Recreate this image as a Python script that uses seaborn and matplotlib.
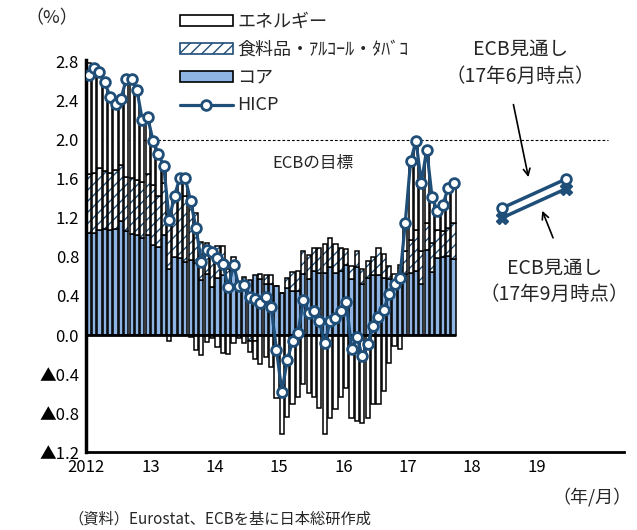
import numpy as np
import pandas as pd
import matplotlib
matplotlib.use("Agg")
import matplotlib.pyplot as plt
import seaborn as sns
from matplotlib.patches import Patch
from matplotlib.lines import Line2D

sns.set_theme(style="white")
plt.rcParams["font.family"] = ["Noto Sans CJK JP", "DejaVu Sans"]
plt.rcParams["hatch.linewidth"] = 1.0

# monthly contributions, 2012/01 - 2017/09 (%pt)
years = [2012] * 12 + [2013] * 12 + [2014] * 12 + [2015] * 12 + [2016] * 12 + [2017] * 9
months = list(range(1, 13)) * 5 + list(range(1, 10))

hicp = [2.66, 2.74, 2.70, 2.59, 2.44, 2.37, 2.42, 2.62, 2.62, 2.51, 2.20, 2.23,
        1.99, 1.86, 1.73, 1.18, 1.43, 1.61, 1.61, 1.37, 1.10, 0.75, 0.87, 0.85,
        0.79, 0.73, 0.49, 0.72, 0.50, 0.51, 0.39, 0.37, 0.33, 0.39, 0.29, -0.15,
        -0.58, -0.26, -0.06, 0.02, 0.36, 0.23, 0.25, 0.14, -0.08, 0.14, 0.17, 0.25,
        0.34, -0.14, -0.02, -0.22, -0.09, 0.09, 0.18, 0.26, 0.42, 0.52, 0.58, 1.15,
        1.78, 1.99, 1.56, 1.90, 1.41, 1.27, 1.33, 1.51, 1.56]
core = [1.05, 1.05, 1.08, 1.09, 1.08, 1.09, 1.17, 1.07, 1.04, 1.03, 0.99, 1.03,
        0.92, 0.90, 1.03, 0.68, 0.80, 0.79, 0.75, 0.77, 0.74, 0.56, 0.63, 0.49,
        0.58, 0.62, 0.48, 0.66, 0.50, 0.55, 0.56, 0.62, 0.57, 0.52, 0.52, 0.50,
        0.43, 0.48, 0.45, 0.45, 0.63, 0.57, 0.66, 0.64, 0.64, 0.70, 0.64, 0.66,
        0.72, 0.57, 0.70, 0.52, 0.58, 0.62, 0.62, 0.58, 0.57, 0.53, 0.58, 0.63,
        0.64, 0.66, 0.52, 0.87, 0.65, 0.79, 0.80, 0.81, 0.78]
food = [0.60, 0.61, 0.63, 0.59, 0.58, 0.60, 0.57, 0.55, 0.57, 0.56, 0.58, 0.62,
        0.62, 0.53, 0.53, 0.56, 0.62, 0.62, 0.68, 0.62, 0.51, 0.39, 0.31, 0.39,
        0.33, 0.29, 0.20, 0.14, 0.03, 0.04, -0.06, -0.06, 0.06, 0.10, 0.10, 0.00,
        0.00, 0.10, 0.20, 0.21, 0.23, 0.25, 0.23, 0.25, 0.29, 0.29, 0.29, 0.23,
        0.16, 0.14, 0.16, 0.16, 0.18, 0.18, 0.27, 0.25, 0.14, 0.10, 0.14, 0.23,
        0.33, 0.42, 0.34, 0.28, 0.29, 0.29, 0.27, 0.29, 0.37]
energy = [1.14, 1.12, 0.99, 0.91, 0.78, 0.68, 0.68, 1.00, 1.01, 0.92, 0.63, 0.58,
          0.45, 0.43, 0.17, -0.06, 0.01, 0.20, 0.18, -0.02, -0.15, -0.20, -0.07, -0.03,
          -0.12, -0.18, -0.19, -0.08, -0.03, -0.08, -0.11, -0.19, -0.30, -0.23, -0.33, -0.65,
          -1.01, -0.84, -0.71, -0.64, -0.50, -0.59, -0.64, -0.75, -1.01, -0.85, -0.76, -0.64,
          -0.54, -0.85, -0.88, -0.90, -0.85, -0.71, -0.71, -0.57, -0.29, -0.11, -0.14, 0.29,
          0.81, 0.91, 0.70, 0.75, 0.47, 0.19, 0.26, 0.41, 0.41]

# ECB staff projections (annual)
proj_years = [2018, 2019]
proj_jun = [1.3, 1.6]
proj_sep = [1.2, 1.5]

ytick_vals = [-1.2, -0.8, -0.4, 0.0, 0.4, 0.8, 1.2, 1.6, 2.0, 2.4, 2.8]
ytick_labels = ["▲1.2", "▲0.8", "▲0.4", "0.0", "0.4", "0.8", "1.2", "1.6", "2.0", "2.4", "2.8"]
xtick_vals = [2012, 2013, 2014, 2015, 2016, 2017, 2018, 2019, 2020]
xtick_labels = ["2012", "13", "14", "15", "16", "17", "18", "19", ""]

NAVY = "#1F4E79"
CORE_BLUE = "#8DB4E2"

df = pd.DataFrame({"year": years, "month": months, "hicp": hicp,
                   "core": core, "food": food, "energy": energy})
df["x"] = df["year"] + (df["month"] - 0.5) / 12

# stack positives upward and negatives downward (Excel style)
pos = np.zeros(len(df))
neg = np.zeros(len(df))
bottoms = {}
for col in ["core", "food", "energy"]:
    v = df[col].values
    b = np.where(v >= 0, pos, neg)
    bottoms[col] = b
    pos = pos + np.where(v >= 0, v, 0)
    neg = neg + np.where(v < 0, v, 0)

fig = plt.figure(figsize=(6.37, 5.30), dpi=100)
ax = fig.add_axes([0.135, 0.147, 0.845, 0.740])

w = 0.78 / 12
ax.bar(df["x"], df["core"], bottom=bottoms["core"], width=w,
       color=CORE_BLUE, edgecolor="black", linewidth=1.1, zorder=2)
ax.bar(df["x"], df["food"], bottom=bottoms["food"], width=w,
       color="white", edgecolor=NAVY, linewidth=0, hatch="///", zorder=2)
ax.bar(df["x"], df["food"], bottom=bottoms["food"], width=w,
       fill=False, edgecolor="black", linewidth=1.1, zorder=2)
ax.bar(df["x"], df["energy"], bottom=bottoms["energy"], width=w,
       color="white", edgecolor="black", linewidth=1.1, zorder=2)

# zero line under the bars
ax.hlines(0, 2012, df["x"].iloc[-1] + w / 2, color="black", lw=2.0, zorder=3)
# ECB target
ax.hlines(2.0, 2012, 2020.1, color="black", lw=0.8, linestyles=(0, (2.5, 1.8)), zorder=1)

sns.lineplot(data=df, x="x", y="hicp", ax=ax, color=NAVY, lw=2.3,
             marker="o", markersize=7, markerfacecolor="white",
             markeredgecolor=NAVY, markeredgewidth=2, zorder=4)

px = [y + 5.5 / 12 for y in proj_years]
ax.plot(px, proj_sep, color=NAVY, lw=2.5, marker="X", markersize=9,
        markerfacecolor=NAVY, markeredgecolor=NAVY, zorder=4)
ax.plot(px, proj_jun, color=NAVY, lw=2.5, marker="o", markersize=7,
        markerfacecolor="white", markeredgecolor=NAVY, markeredgewidth=2, zorder=5)

ax.set_xlim(2012, 2020.36)
ax.set_ylim(-1.2, 2.82)
ax.set_xticks(xtick_vals)
ax.set_xticklabels(xtick_labels, fontsize=12)
ax.set_yticks(ytick_vals)
ax.set_yticklabels(ytick_labels, fontsize=12)
ax.set_xlabel("")
ax.set_ylabel("")
ax.tick_params(axis="both", direction="in", length=5, width=1.5, color="black",
               labelcolor="black", pad=5)
for side in ["top", "right"]:
    ax.spines[side].set_visible(False)
ax.spines["left"].set_linewidth(2.5)
ax.spines["bottom"].set_linewidth(2.0)
ax.spines["left"].set_color("black")
ax.spines["bottom"].set_color("black")

# annotations
ax.text(2015.53, 1.76, "ECBの目標", ha="center", va="center", fontsize=12)
ax.text(2018.75, 2.79, "ECB見通し\n（17年6月時点）", ha="center", va="center",
        fontsize=14, linespacing=1.35, clip_on=False)
ax.annotate("", xy=(2018.88, 1.59), xytext=(2018.63, 2.39),
            arrowprops=dict(arrowstyle="->", color="black", lw=1.2))
ax.text(2019.27, 0.55, "ECB見通し\n（17年9月時点）", ha="center", va="center",
        fontsize=14, linespacing=1.35, clip_on=False)
ax.annotate("", xy=(2019.07, 1.30), xytext=(2019.27, 0.97),
            arrowprops=dict(arrowstyle="->", color="black", lw=1.2))

handles = [
    Patch(facecolor="white", edgecolor="black", linewidth=1.2),
    Patch(facecolor="white", edgecolor=NAVY, hatch="///", linewidth=1.2),
    Patch(facecolor=CORE_BLUE, edgecolor="black", linewidth=1.2),
    Line2D([0], [0], color=NAVY, lw=2.3, marker="o", markersize=7,
           markerfacecolor="white", markeredgecolor=NAVY, markeredgewidth=2),
]
labels = ["エネルギー", "食料品・ｱﾙｺｰﾙ・ﾀﾊﾞｺ", "コア", "HICP"]
fig.legend(handles, labels, loc="upper left", bbox_to_anchor=(0.263, 1.0),
           frameon=False, fontsize=13, handlelength=2.9, handleheight=0.55,
           handletextpad=0.25, labelspacing=0.55, borderpad=0.2)

fig.text(52 / 637, 1 - 18 / 530, "（%）", ha="center", va="center", fontsize=13)
fig.text(632 / 637, 1 - 497 / 530, "（年/月）", ha="right", va="center", fontsize=13)
fig.text(68 / 637, 1 - 519 / 530, "（資料）Eurostat、ECBを基に日本総研作成",
         ha="left", va="center", fontsize=11)

fig.savefig("out.png", dpi=100)
